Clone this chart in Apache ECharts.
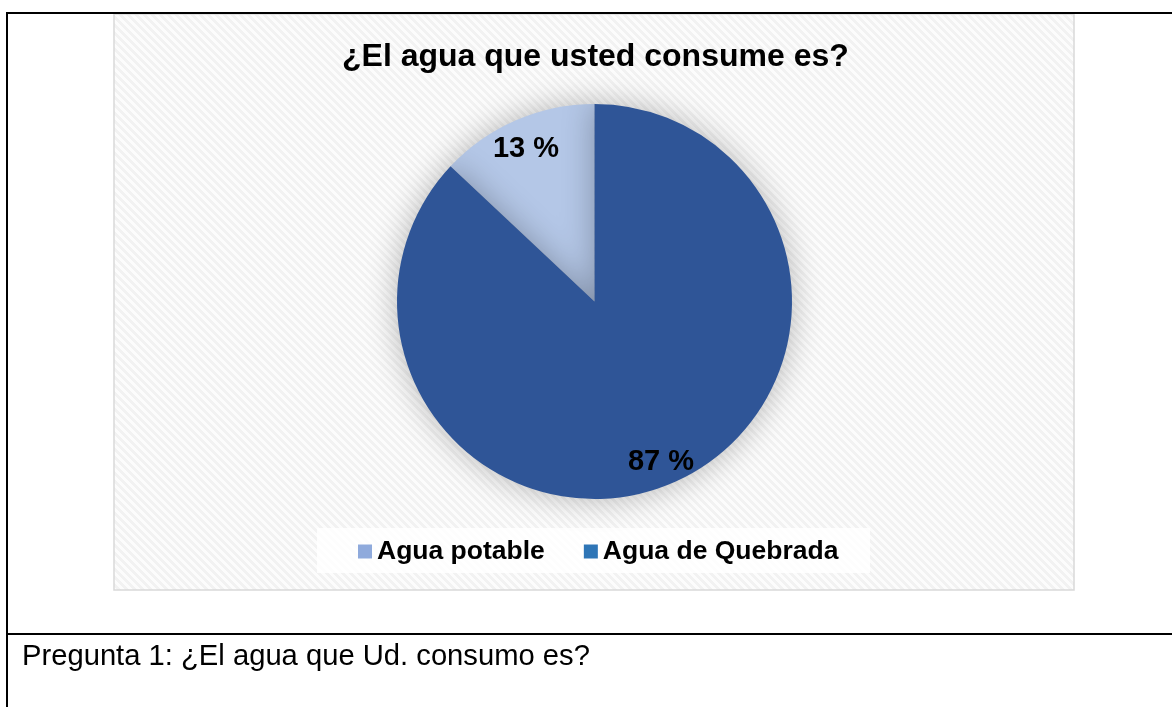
<!DOCTYPE html>
<html>
<head>
<meta charset="utf-8">
<script src="https://cdn.jsdelivr.net/npm/echarts@6/dist/echarts.min.js"></script>
<style>
  html, body { margin: 0; padding: 0; background: #ffffff; }
  #chart { width: 1172px; height: 707px; }
</style>
</head>
<body>
<div id="chart"></div>
<script>
// Survey answers for question 1
const categories = ['Agua potable', 'Agua de Quebrada'];
const percentages = [13, 87];
const sliceColors = ['#B4C7E7', '#2F5597'];
const legendColors = ['#8FAADC', '#2E75B6'];
const chartTitle = '¿El agua que usted consume es?';
const caption = 'Pregunta 1: ¿El agua que Ud. consumo es?';

const FONT = "'Liberation Sans', Arial, Helvetica, sans-serif";

// Light diagonal hatch used as the chart area fill
function makeHatch() {
  const c = document.createElement('canvas');
  c.width = 8; c.height = 8;
  const ctx = c.getContext('2d');
  const img = ctx.createImageData(8, 8);
  for (let y = 0; y < 8; y++) {
    for (let x = 0; x < 8; x++) {
      const m = ((x - y) % 8 + 8) % 8;
      const v = m < 4 ? 242 : 252;
      const i = (y * 8 + x) * 4;
      img.data[i] = v; img.data[i + 1] = v; img.data[i + 2] = v; img.data[i + 3] = 255;
    }
  }
  ctx.putImageData(img, 0, 0);
  return c;
}

const pieData = categories.map((name, i) => ({
  name: name,
  value: percentages[i],
  itemStyle: { color: sliceColors[i] }
}));

const labelData = categories.map((name, i) => ({
  name: name,
  value: percentages[i]
}));

const chart = echarts.init(document.getElementById('chart'), null, { renderer: 'canvas' });

chart.setOption({
  animation: false,
  backgroundColor: '#ffffff',
  title: {
    text: chartTitle,
    left: 342,
    top: 41,
    padding: 0,
    textStyle: { fontFamily: FONT, fontSize: 32, fontWeight: 'bold', color: '#000000', lineHeight: 32 }
  },
  legend: {
    left: 358,
    top: 538,
    padding: 0,
    itemWidth: 14,
    itemHeight: 14,
    itemGap: 39,
    icon: 'rect',
    selectedMode: false,
    textStyle: { fontFamily: FONT, fontSize: 26.5, fontWeight: 'bold', color: '#000000', lineHeight: 27 },
    data: categories.map((name, i) => ({ name: name, itemStyle: { color: legendColors[i] } }))
  },
  graphic: [
    // chart area
    {
      type: 'rect', z: -10, silent: true,
      shape: { x: 114, y: 14, width: 960, height: 576 },
      style: { fill: { image: makeHatch(), repeat: 'repeat' }, stroke: '#d9d9d9', lineWidth: 1.5 }
    },
    // legend panel
    {
      type: 'rect', z: -5, silent: true,
      shape: { x: 317, y: 528, width: 553, height: 45 },
      style: { fill: 'rgba(255,255,255,0.85)' }
    },
    // table borders
    {
      type: 'line', z: 10, silent: true,
      shape: { x1: 6, y1: 13, x2: 1172, y2: 13 },
      style: { stroke: '#000000', lineWidth: 2 }
    },
    {
      type: 'line', z: 10, silent: true,
      shape: { x1: 7, y1: 12, x2: 7, y2: 707 },
      style: { stroke: '#000000', lineWidth: 2 }
    },
    {
      type: 'line', z: 10, silent: true,
      shape: { x1: 6, y1: 634, x2: 1172, y2: 634 },
      style: { stroke: '#000000', lineWidth: 2 }
    },
    // caption below the chart
    {
      type: 'text', z: 10, silent: true,
      left: 22, top: 642,
      style: { text: caption, fontFamily: FONT, fontSize: 29.2, fill: '#000000' }
    }
  ],
  series: [
    {
      type: 'pie',
      center: [594.5, 301.5],
      radius: [0, 197.5],
      startAngle: 90,
      clockwise: false,
      silent: true,
      label: { show: false },
      labelLine: { show: false },
      itemStyle: { borderWidth: 0, shadowBlur: 32, shadowColor: 'rgba(0,0,0,0.28)' },
      data: pieData
    },
    {
      // ring that only carries the percentage labels
      type: 'pie',
      center: [594.5, 301.5],
      radius: [137, 197],
      startAngle: 90,
      clockwise: false,
      silent: true,
      itemStyle: { color: 'rgba(0,0,0,0)', borderWidth: 0 },
      label: {
        show: true,
        position: 'inside',
        formatter: p => p.value + ' %',
        fontFamily: FONT,
        fontSize: 29,
        fontWeight: 'bold',
        color: '#000000',
        offset: [-1, 4]
      },
      labelLine: { show: false },
      data: labelData
    }
  ]
});
</script>
</body>
</html>
